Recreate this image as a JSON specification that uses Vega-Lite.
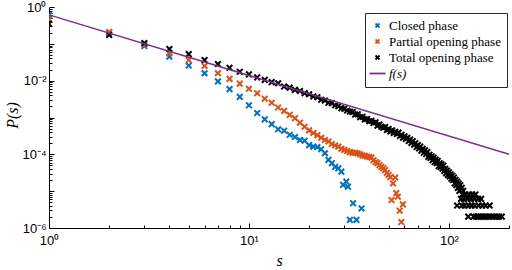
{
  "$schema": "https://vega.github.io/schema/vega-lite/v6.json",
  "width": 460,
  "height": 221,
  "autosize": {"type": "none"},
  "padding": {"left": 49, "top": 7, "right": 3, "bottom": 42},
  "background": "white",
  "config": {
    "view": {"stroke": null},
    "axis": {
      "grid": false,
      "domainColor": "#000000",
      "domainWidth": 1,
      "tickColor": "#000000",
      "tickWidth": 1,
      "labelColor": "#000000",
      "labelFont": "Liberation Sans",
      "labelFontSize": 13,
      "labelOverlap": false,
      "labelBound": false,
      "labelFlush": false,
      "titleColor": "#000000",
      "titleFont": "Liberation Serif",
      "titleFontStyle": "italic",
      "titleFontWeight": "normal",
      "titleFontSize": 16
    },
    "legend": {
      "labelFont": "Liberation Serif",
      "labelFontSize": 13,
      "labelColor": "#000000",
      "symbolStrokeWidth": 1.8,
      "symbolSize": 16,
      "rowPadding": 2,
      "labelOffset": 5,
      "padding": 6,
      "strokeColor": "#262626",
      "fillColor": "white"
    }
  },
  "datasets": {
    "pts": [
      {"s": 1, "P": 0.603, "g": "Closed phase"},
      {"s": 2, "P": 0.2, "g": "Closed phase"},
      {"s": 3, "P": 0.0871, "g": "Closed phase"},
      {"s": 4, "P": 0.0447, "g": "Closed phase"},
      {"s": 5, "P": 0.0257, "g": "Closed phase"},
      {"s": 6, "P": 0.0159, "g": "Closed phase"},
      {"s": 7, "P": 0.00955, "g": "Closed phase"},
      {"s": 8, "P": 0.00589, "g": "Closed phase"},
      {"s": 9, "P": 0.00363, "g": "Closed phase"},
      {"s": 10, "P": 0.00214, "g": "Closed phase"},
      {"s": 11, "P": 0.00132, "g": "Closed phase"},
      {"s": 12, "P": 8.91e-4, "g": "Closed phase"},
      {"s": 13, "P": 6.61e-4, "g": "Closed phase"},
      {"s": 14, "P": 4.79e-4, "g": "Closed phase"},
      {"s": 15, "P": 4.37e-4, "g": "Closed phase"},
      {"s": 16, "P": 3.39e-4, "g": "Closed phase"},
      {"s": 17, "P": 2.95e-4, "g": "Closed phase"},
      {"s": 18, "P": 2.46e-4, "g": "Closed phase"},
      {"s": 19, "P": 2.34e-4, "g": "Closed phase"},
      {"s": 20, "P": 1.78e-4, "g": "Closed phase"},
      {"s": 21, "P": 1.62e-4, "g": "Closed phase"},
      {"s": 22, "P": 1.58e-4, "g": "Closed phase"},
      {"s": 23, "P": 1.38e-4, "g": "Closed phase"},
      {"s": 24, "P": 1.07e-4, "g": "Closed phase"},
      {"s": 25, "P": 7.08e-5, "g": "Closed phase"},
      {"s": 26, "P": 5.75e-5, "g": "Closed phase"},
      {"s": 27, "P": 4.57e-5, "g": "Closed phase"},
      {"s": 28, "P": 4.17e-5, "g": "Closed phase"},
      {"s": 29, "P": 3.39e-5, "g": "Closed phase"},
      {"s": 29.6, "P": 1.48e-5, "g": "Closed phase"},
      {"s": 30.7, "P": 1.82e-5, "g": "Closed phase"},
      {"s": 31.3, "P": 1.32e-5, "g": "Closed phase"},
      {"s": 32, "P": 1.66e-6, "g": "Closed phase"},
      {"s": 33.2, "P": 4.68e-6, "g": "Closed phase"},
      {"s": 34.5, "P": 1.66e-6, "g": "Closed phase"},
      {"s": 36.6, "P": 3.39e-6, "g": "Closed phase"},
      {"s": 1, "P": 0.468, "g": "Partial opening phase"},
      {"s": 2, "P": 0.209, "g": "Partial opening phase"},
      {"s": 3, "P": 0.0977, "g": "Partial opening phase"},
      {"s": 4, "P": 0.055, "g": "Partial opening phase"},
      {"s": 5, "P": 0.0363, "g": "Partial opening phase"},
      {"s": 6, "P": 0.0251, "g": "Partial opening phase"},
      {"s": 7, "P": 0.0159, "g": "Partial opening phase"},
      {"s": 8, "P": 0.0112, "g": "Partial opening phase"},
      {"s": 9, "P": 0.00832, "g": "Partial opening phase"},
      {"s": 10, "P": 0.00603, "g": "Partial opening phase"},
      {"s": 11, "P": 0.00457, "g": "Partial opening phase"},
      {"s": 12, "P": 0.00324, "g": "Partial opening phase"},
      {"s": 13, "P": 0.00251, "g": "Partial opening phase"},
      {"s": 14, "P": 0.00186, "g": "Partial opening phase"},
      {"s": 15, "P": 0.00151, "g": "Partial opening phase"},
      {"s": 16, "P": 0.00118, "g": "Partial opening phase"},
      {"s": 17, "P": 9.55e-4, "g": "Partial opening phase"},
      {"s": 18, "P": 7.24e-4, "g": "Partial opening phase"},
      {"s": 19, "P": 5.62e-4, "g": "Partial opening phase"},
      {"s": 20, "P": 4.47e-4, "g": "Partial opening phase"},
      {"s": 21, "P": 3.8e-4, "g": "Partial opening phase"},
      {"s": 22, "P": 3.31e-4, "g": "Partial opening phase"},
      {"s": 23, "P": 2.82e-4, "g": "Partial opening phase"},
      {"s": 24, "P": 2.46e-4, "g": "Partial opening phase"},
      {"s": 25, "P": 2.24e-4, "g": "Partial opening phase"},
      {"s": 26, "P": 1.91e-4, "g": "Partial opening phase"},
      {"s": 27, "P": 1.74e-4, "g": "Partial opening phase"},
      {"s": 28, "P": 1.62e-4, "g": "Partial opening phase"},
      {"s": 29, "P": 1.41e-4, "g": "Partial opening phase"},
      {"s": 30, "P": 1.32e-4, "g": "Partial opening phase"},
      {"s": 31, "P": 1.23e-4, "g": "Partial opening phase"},
      {"s": 32, "P": 1.15e-4, "g": "Partial opening phase"},
      {"s": 33, "P": 1.1e-4, "g": "Partial opening phase"},
      {"s": 34, "P": 1.1e-4, "g": "Partial opening phase"},
      {"s": 35, "P": 1.07e-4, "g": "Partial opening phase"},
      {"s": 36, "P": 1.0e-4, "g": "Partial opening phase"},
      {"s": 37, "P": 9.33e-5, "g": "Partial opening phase"},
      {"s": 38, "P": 9.12e-5, "g": "Partial opening phase"},
      {"s": 39, "P": 8.71e-5, "g": "Partial opening phase"},
      {"s": 40, "P": 8.51e-5, "g": "Partial opening phase"},
      {"s": 41, "P": 8.13e-5, "g": "Partial opening phase"},
      {"s": 42, "P": 6.92e-5, "g": "Partial opening phase"},
      {"s": 43, "P": 6.17e-5, "g": "Partial opening phase"},
      {"s": 44, "P": 5.75e-5, "g": "Partial opening phase"},
      {"s": 45, "P": 5.13e-5, "g": "Partial opening phase"},
      {"s": 46, "P": 4.57e-5, "g": "Partial opening phase"},
      {"s": 47, "P": 4.17e-5, "g": "Partial opening phase"},
      {"s": 48, "P": 3.72e-5, "g": "Partial opening phase"},
      {"s": 49, "P": 3.16e-5, "g": "Partial opening phase"},
      {"s": 50, "P": 2.75e-5, "g": "Partial opening phase"},
      {"s": 51, "P": 2.4e-5, "g": "Partial opening phase"},
      {"s": 51.7, "P": 5.75e-6, "g": "Partial opening phase"},
      {"s": 52.6, "P": 1.62e-5, "g": "Partial opening phase"},
      {"s": 53.9, "P": 2.34e-5, "g": "Partial opening phase"},
      {"s": 54.6, "P": 8.91e-6, "g": "Partial opening phase"},
      {"s": 55.6, "P": 7.08e-6, "g": "Partial opening phase"},
      {"s": 56.8, "P": 2.95e-6, "g": "Partial opening phase"},
      {"s": 57.9, "P": 1.45e-6, "g": "Partial opening phase"},
      {"s": 58.9, "P": 4.37e-6, "g": "Partial opening phase"},
      {"s": 1, "P": 0.347, "g": "Total opening phase"},
      {"s": 2, "P": 0.174, "g": "Total opening phase"},
      {"s": 3, "P": 0.105, "g": "Total opening phase"},
      {"s": 4, "P": 0.0724, "g": "Total opening phase"},
      {"s": 5, "P": 0.0525, "g": "Total opening phase"},
      {"s": 6, "P": 0.0363, "g": "Total opening phase"},
      {"s": 7, "P": 0.0282, "g": "Total opening phase"},
      {"s": 8, "P": 0.0224, "g": "Total opening phase"},
      {"s": 9, "P": 0.0174, "g": "Total opening phase"},
      {"s": 10, "P": 0.0148, "g": "Total opening phase"},
      {"s": 11, "P": 0.0123, "g": "Total opening phase"},
      {"s": 12, "P": 0.0105, "g": "Total opening phase"},
      {"s": 13, "P": 0.00912, "g": "Total opening phase"},
      {"s": 14, "P": 0.00851, "g": "Total opening phase"},
      {"s": 15, "P": 0.00692, "g": "Total opening phase"},
      {"s": 16, "P": 0.00646, "g": "Total opening phase"},
      {"s": 17, "P": 0.00562, "g": "Total opening phase"},
      {"s": 18, "P": 0.00525, "g": "Total opening phase"},
      {"s": 19, "P": 0.00457, "g": "Total opening phase"},
      {"s": 20, "P": 0.00427, "g": "Total opening phase"},
      {"s": 21, "P": 0.00372, "g": "Total opening phase"},
      {"s": 22, "P": 0.00355, "g": "Total opening phase"},
      {"s": 23, "P": 0.00302, "g": "Total opening phase"},
      {"s": 24, "P": 0.00288, "g": "Total opening phase"},
      {"s": 25, "P": 0.00251, "g": "Total opening phase"},
      {"s": 26, "P": 0.00246, "g": "Total opening phase"},
      {"s": 27, "P": 0.00214, "g": "Total opening phase"},
      {"s": 28, "P": 0.00204, "g": "Total opening phase"},
      {"s": 29, "P": 0.00178, "g": "Total opening phase"},
      {"s": 30, "P": 0.00174, "g": "Total opening phase"},
      {"s": 31, "P": 0.00155, "g": "Total opening phase"},
      {"s": 32, "P": 0.00145, "g": "Total opening phase"},
      {"s": 33, "P": 0.00141, "g": "Total opening phase"},
      {"s": 34, "P": 0.0012, "g": "Total opening phase"},
      {"s": 35, "P": 0.00123, "g": "Total opening phase"},
      {"s": 36, "P": 0.00102, "g": "Total opening phase"},
      {"s": 37, "P": 0.00105, "g": "Total opening phase"},
      {"s": 38, "P": 8.91e-4, "g": "Total opening phase"},
      {"s": 39, "P": 9.12e-4, "g": "Total opening phase"},
      {"s": 40, "P": 7.94e-4, "g": "Total opening phase"},
      {"s": 41, "P": 8.13e-4, "g": "Total opening phase"},
      {"s": 42, "P": 7.08e-4, "g": "Total opening phase"},
      {"s": 43, "P": 7.41e-4, "g": "Total opening phase"},
      {"s": 44, "P": 6.03e-4, "g": "Total opening phase"},
      {"s": 45, "P": 6.46e-4, "g": "Total opening phase"},
      {"s": 46, "P": 5.62e-4, "g": "Total opening phase"},
      {"s": 47, "P": 5.25e-4, "g": "Total opening phase"},
      {"s": 48, "P": 5.5e-4, "g": "Total opening phase"},
      {"s": 49, "P": 4.57e-4, "g": "Total opening phase"},
      {"s": 50, "P": 4.9e-4, "g": "Total opening phase"},
      {"s": 51, "P": 4.17e-4, "g": "Total opening phase"},
      {"s": 52, "P": 4.47e-4, "g": "Total opening phase"},
      {"s": 53, "P": 3.8e-4, "g": "Total opening phase"},
      {"s": 54, "P": 4.07e-4, "g": "Total opening phase"},
      {"s": 55, "P": 3.55e-4, "g": "Total opening phase"},
      {"s": 56, "P": 3.89e-4, "g": "Total opening phase"},
      {"s": 57, "P": 3.16e-4, "g": "Total opening phase"},
      {"s": 58, "P": 3.39e-4, "g": "Total opening phase"},
      {"s": 59, "P": 2.82e-4, "g": "Total opening phase"},
      {"s": 60, "P": 3.09e-4, "g": "Total opening phase"},
      {"s": 61, "P": 2.63e-4, "g": "Total opening phase"},
      {"s": 62, "P": 2.82e-4, "g": "Total opening phase"},
      {"s": 63, "P": 2.29e-4, "g": "Total opening phase"},
      {"s": 64, "P": 2.51e-4, "g": "Total opening phase"},
      {"s": 65, "P": 2.04e-4, "g": "Total opening phase"},
      {"s": 66, "P": 2.29e-4, "g": "Total opening phase"},
      {"s": 67, "P": 1.82e-4, "g": "Total opening phase"},
      {"s": 68, "P": 2.0e-4, "g": "Total opening phase"},
      {"s": 69, "P": 1.58e-4, "g": "Total opening phase"},
      {"s": 70, "P": 1.78e-4, "g": "Total opening phase"},
      {"s": 71, "P": 1.45e-4, "g": "Total opening phase"},
      {"s": 72, "P": 1.62e-4, "g": "Total opening phase"},
      {"s": 73, "P": 1.26e-4, "g": "Total opening phase"},
      {"s": 74, "P": 1.41e-4, "g": "Total opening phase"},
      {"s": 75, "P": 1.1e-4, "g": "Total opening phase"},
      {"s": 76, "P": 1.29e-4, "g": "Total opening phase"},
      {"s": 77, "P": 1.0e-4, "g": "Total opening phase"},
      {"s": 78, "P": 1.15e-4, "g": "Total opening phase"},
      {"s": 79, "P": 8.51e-5, "g": "Total opening phase"},
      {"s": 80, "P": 9.77e-5, "g": "Total opening phase"},
      {"s": 81, "P": 7.94e-5, "g": "Total opening phase"},
      {"s": 82, "P": 8.91e-5, "g": "Total opening phase"},
      {"s": 83, "P": 6.92e-5, "g": "Total opening phase"},
      {"s": 84, "P": 8.13e-5, "g": "Total opening phase"},
      {"s": 85, "P": 6.17e-5, "g": "Total opening phase"},
      {"s": 86, "P": 7.24e-5, "g": "Total opening phase"},
      {"s": 87, "P": 5.75e-5, "g": "Total opening phase"},
      {"s": 88, "P": 6.61e-5, "g": "Total opening phase"},
      {"s": 89, "P": 4.79e-5, "g": "Total opening phase"},
      {"s": 90, "P": 5.75e-5, "g": "Total opening phase"},
      {"s": 91, "P": 4.57e-5, "g": "Total opening phase"},
      {"s": 92, "P": 5.37e-5, "g": "Total opening phase"},
      {"s": 93, "P": 4.07e-5, "g": "Total opening phase"},
      {"s": 94, "P": 4.9e-5, "g": "Total opening phase"},
      {"s": 95, "P": 3.55e-5, "g": "Total opening phase"},
      {"s": 96, "P": 4.07e-5, "g": "Total opening phase"},
      {"s": 97, "P": 3.09e-5, "g": "Total opening phase"},
      {"s": 98, "P": 3.63e-5, "g": "Total opening phase"},
      {"s": 99, "P": 2.75e-5, "g": "Total opening phase"},
      {"s": 100, "P": 3.24e-5, "g": "Total opening phase"},
      {"s": 101, "P": 2.51e-5, "g": "Total opening phase"},
      {"s": 102, "P": 2.88e-5, "g": "Total opening phase"},
      {"s": 103, "P": 2.19e-5, "g": "Total opening phase"},
      {"s": 104, "P": 2.63e-5, "g": "Total opening phase"},
      {"s": 105, "P": 2.0e-5, "g": "Total opening phase"},
      {"s": 106, "P": 2.34e-5, "g": "Total opening phase"},
      {"s": 107, "P": 1.62e-5, "g": "Total opening phase"},
      {"s": 108, "P": 2.04e-5, "g": "Total opening phase"},
      {"s": 109, "P": 1.45e-5, "g": "Total opening phase"},
      {"s": 110, "P": 1.82e-5, "g": "Total opening phase"},
      {"s": 111, "P": 1.23e-5, "g": "Total opening phase"},
      {"s": 112, "P": 1.62e-5, "g": "Total opening phase"},
      {"s": 113, "P": 1.02e-5, "g": "Total opening phase"},
      {"s": 114, "P": 1.45e-5, "g": "Total opening phase"},
      {"s": 116, "P": 1.23e-5, "g": "Total opening phase"},
      {"s": 118, "P": 1.02e-5, "g": "Total opening phase"},
      {"s": 117, "P": 8.13e-6, "g": "Total opening phase"},
      {"s": 121, "P": 8.13e-6, "g": "Total opening phase"},
      {"s": 126, "P": 8.13e-6, "g": "Total opening phase"},
      {"s": 131, "P": 8.13e-6, "g": "Total opening phase"},
      {"s": 136, "P": 8.13e-6, "g": "Total opening phase"},
      {"s": 115, "P": 6.17e-6, "g": "Total opening phase"},
      {"s": 119, "P": 6.17e-6, "g": "Total opening phase"},
      {"s": 124, "P": 6.17e-6, "g": "Total opening phase"},
      {"s": 129, "P": 6.17e-6, "g": "Total opening phase"},
      {"s": 134, "P": 6.17e-6, "g": "Total opening phase"},
      {"s": 140, "P": 6.17e-6, "g": "Total opening phase"},
      {"s": 145, "P": 6.17e-6, "g": "Total opening phase"},
      {"s": 110, "P": 4.07e-6, "g": "Total opening phase"},
      {"s": 116, "P": 4.07e-6, "g": "Total opening phase"},
      {"s": 120, "P": 4.07e-6, "g": "Total opening phase"},
      {"s": 125, "P": 4.07e-6, "g": "Total opening phase"},
      {"s": 130, "P": 4.07e-6, "g": "Total opening phase"},
      {"s": 135, "P": 4.07e-6, "g": "Total opening phase"},
      {"s": 141, "P": 4.07e-6, "g": "Total opening phase"},
      {"s": 147, "P": 4.07e-6, "g": "Total opening phase"},
      {"s": 153, "P": 4.07e-6, "g": "Total opening phase"},
      {"s": 160, "P": 4.07e-6, "g": "Total opening phase"},
      {"s": 125, "P": 2.04e-6, "g": "Total opening phase"},
      {"s": 133, "P": 2.04e-6, "g": "Total opening phase"},
      {"s": 137, "P": 2.04e-6, "g": "Total opening phase"},
      {"s": 141, "P": 2.04e-6, "g": "Total opening phase"},
      {"s": 145, "P": 2.04e-6, "g": "Total opening phase"},
      {"s": 150, "P": 2.04e-6, "g": "Total opening phase"},
      {"s": 155, "P": 2.04e-6, "g": "Total opening phase"},
      {"s": 160, "P": 2.04e-6, "g": "Total opening phase"},
      {"s": 166, "P": 2.04e-6, "g": "Total opening phase"},
      {"s": 172, "P": 2.04e-6, "g": "Total opening phase"},
      {"s": 178, "P": 2.04e-6, "g": "Total opening phase"},
      {"s": 184, "P": 2.04e-6, "g": "Total opening phase"}
    ],
    "fit": [
      {"s": 1, "P": 0.61, "g": "f(s)"},
      {"s": 200, "P": 1.0e-4, "g": "f(s)"}
    ]
  },
  "layer": [
    {
      "data": {"name": "pts"},
      "mark": {"type": "point", "filled": false, "strokeWidth": 2, "size": 32, "opacity": 1, "clip": true},
      "encoding": {
        "x": {
          "field": "s", "type": "quantitative",
          "scale": {"type": "log", "domain": [1, 200], "nice": false},
          "axis": {
            "title": "s",
            "values": [1, 2, 3, 4, 5, 6, 7, 8, 9, 10, 20, 30, 40, 50, 60, 70, 80, 90, 100, 200],
            "labelExpr": "datum.value == 1 ? '10⁰' : datum.value == 10 ? '10¹' : datum.value == 100 ? '10²' : ''",
            "tickSize": {"condition": {"test": "datum.value == 1 || datum.value == 10 || datum.value == 100", "value": -5}, "value": -3},
            "labelPadding": 11,
            "titleX": 230,
            "titleY": 32,
            "titleBaseline": "middle",
            "titleAlign": "center"
          }
        },
        "y": {
          "field": "P", "type": "quantitative",
          "scale": {"type": "log", "domain": [0.000001, 1], "nice": false},
          "axis": {
            "title": "P(s)",
            "values": [0.000001, 2e-6, 3e-6, 4e-6, 5e-6, 6e-6, 7e-6, 8e-6, 9e-6, 0.00001, 2e-5, 3e-5, 4e-5, 5e-5, 6e-5, 7e-5, 8e-5, 9e-5, 0.0001, 2e-4, 3e-4, 4e-4, 5e-4, 6e-4, 7e-4, 8e-4, 9e-4, 0.001, 0.002, 0.003, 0.004, 0.005, 0.006, 0.007, 0.008, 0.009, 0.01, 0.02, 0.03, 0.04, 0.05, 0.06, 0.07, 0.08, 0.09, 0.1, 0.2, 0.3, 0.4, 0.5, 0.6, 0.7, 0.8, 0.9, 1],
            "labelExpr": "datum.value == 1 ? '10⁰' : datum.value == 0.01 ? '10⁻²' : datum.value == 0.0001 ? '10⁻⁴' : datum.value == 0.000001 ? '10⁻⁶' : ''",
            "tickSize": {"condition": {"test": "datum.value == 1 || datum.value == 0.1 || datum.value == 0.01 || datum.value == 0.001 || datum.value == 0.0001 || datum.value == 0.00001 || datum.value == 0.000001", "value": -5}, "value": -3},
            "labelPadding": 8,
            "titleX": -37,
            "titleY": 108,
            "titleAngle": -90,
            "titleBaseline": "middle",
            "titleAlign": "center"
          }
        },
        "color": {
          "field": "g", "type": "nominal",
          "scale": {"domain": ["Closed phase", "Partial opening phase", "Total opening phase", "f(s)"], "range": ["#0072BD", "#D95319", "#000000", "#7E2F8E"]},
          "legend": {
            "title": null,
            "orient": "none",
            "legendX": 316,
            "legendY": 6,
            "labelFont": "Liberation Serif",
            "labelFontSize": 13,
            "labelFontStyle": {"expr": "datum.label == 'f(s)' ? 'italic' : 'normal'"}
          }
        },
        "shape": {
          "field": "g", "type": "nominal",
          "scale": {"domain": ["Closed phase", "Partial opening phase", "Total opening phase", "f(s)"], "range": ["M-1,-1L1,1M1,-1L-1,1", "M-1,-1L1,1M1,-1L-1,1", "M-1,-1L1,1M1,-1L-1,1", "M-4,0L4,0"]},
          "legend": {
            "title": null,
            "orient": "none",
            "legendX": 316,
            "legendY": 6,
            "labelFont": "Liberation Serif",
            "labelFontSize": 13,
            "labelFontStyle": {"expr": "datum.label == 'f(s)' ? 'italic' : 'normal'"}
          }
        }
      }
    },
    {
      "data": {"name": "fit"},
      "mark": {"type": "line", "color": "#7E2F8E", "strokeWidth": 1.5},
      "encoding": {
        "x": {"field": "s", "type": "quantitative"},
        "y": {"field": "P", "type": "quantitative"},
        "color": {"field": "g", "type": "nominal"}
      }
    }
  ]
}
